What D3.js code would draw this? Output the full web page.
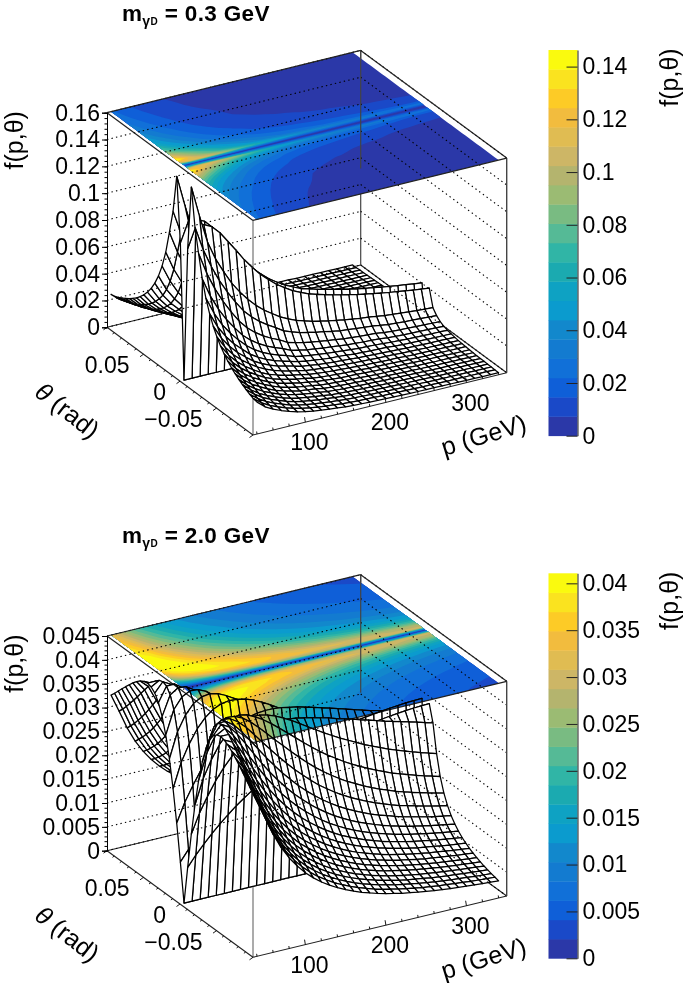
<!DOCTYPE html>
<html><head><meta charset="utf-8">
<script src="https://cdnjs.cloudflare.com/ajax/libs/d3/7.8.5/d3.min.js"></script>
<style>
html,body{margin:0;padding:0;background:#fff}
svg{display:block}
text{font-family:"Liberation Sans",Arial,sans-serif;fill:#000}
.mesh{mix-blend-mode:multiply}
</style></head><body>
<svg id="c" width="685" height="983"></svg>
<script>
// |theta| of each mesh row (the surface reads as symmetric about theta = 0)
const thetaRows=[0,.005,.01,.015,.02,.025,.03,.035,.04,.045,.05,.055,.06,.065,.07,.075,.08,.085,.09,.095,.1];
const pColumns=[40,50,60,70,80,90,100,110,120,130,140,150,160,170,180,190,200,210,220,230,240,250,260,270,280,290,300,310,320,330,340];
const paletteBands=["#2B38A8","#1A49C8","#0F5FD8","#1170D8","#137BD0","#1288CC","#0B9BCE","#0EA2C3","#1BAAB0","#30B5A6","#55BA96","#79BB82","#9BBB73","#B4B46E","#CDB666","#E0BC52","#F2BC3E","#FDCB26","#FAE31F","#FAFA0E"];
const ticksZA=[0,.02,.04,.06,.08,.1,.12,.14,.16];
const ticksZB=[0,.005,.01,.015,.02,.025,.03,.035,.04,.045];
const ticksBarA=[0,.02,.04,.06,.08,.1,.12,.14];
const ticksBarB=[0,.005,.01,.015,.02,.025,.03,.035,.04];
const ticksTheta=[.05,0,-.05];
const ticksP=[100,200,300];
// f(p,theta) x 1e4, mass 0.3 GeV
const surfaceA=[
[0,0,0,0,0,0,0,0,0,0,0,0,0,0,0,0,0,0,0,0,0,0,0,0,0,0,0,0,0,0,0],
[1000,1150,1150,1120,1060,980,900,816,744,677,623,573,533,496,468,442,424,407,391,376,362,349,337,326,316,305,296,287,279,271,263],
[1480,1250,1040,900,790,690,610,540,480,430,390,350,320,295,275,258,245,232,220,210,200,192,185,176,168,162,156,151,146,142,138],
[1200,1020,880,760,660,570,490,430,380,340,305,265,243,223,210,195,187,174,163,156,150,144,138,129,121,117,112,109,106,102,99],
[1023,862,733,625,532,448,383,333,293,260,234,200,183,168,157,148,140,131,122,117,112,108,104,96,90,87,85,81,79,77,75],
[855,712,600,508,431,362,310,269,236,210,188,161,148,135,127,118,112,106,98,94,90,87,83,77,73,70,68,66,64,62,59],
[731,604,505,428,362,305,259,224,197,174,156,134,123,113,106,99,94,88,82,78,75,73,69,64,61,58,56,55,53,52,50],
[637,522,437,368,314,261,223,193,169,150,134,116,106,98,90,84,81,76,70,67,64,62,60,55,52,50,48,47,45,44,43],
[563,459,384,323,274,229,195,169,148,132,118,101,93,85,79,74,71,66,61,59,56,54,51,49,45,44,42,41,40,39,37],
[504,412,343,289,244,205,174,150,132,116,105,90,82,76,71,66,62,59,55,53,50,48,47,43,41,39,37,36,35,34,33],
[456,372,310,260,220,184,156,136,119,105,95,81,74,68,63,60,56,53,49,47,44,43,42,38,36,35,34,33,32,31,30],
[416,339,283,238,201,168,142,123,109,96,86,73,67,62,57,54,51,48,44,43,41,40,37,35,33,32,31,30,29,28,28],
[382,312,259,218,184,154,131,113,100,88,79,67,62,57,52,50,48,44,41,40,37,36,35,33,31,30,29,28,26,25,25],
[353,289,240,201,170,142,120,104,92,81,73,62,57,52,49,45,44,41,37,36,35,33,32,29,28,26,26,25,24,24,23],
[329,269,223,188,157,132,113,97,84,76,68,57,52,49,45,43,40,37,35,34,33,30,29,27,26,25,24,23,23,22,21],
[307,251,208,174,147,123,104,90,79,70,63,54,49,45,43,39,38,35,33,32,30,29,28,26,24,23,22,22,21,21,20],
[288,235,194,164,138,115,97,84,74,65,59,50,46,43,39,37,35,32,30,29,28,27,26,24,23,22,21,21,20,19,19],
[271,222,184,154,131,109,92,79,70,61,56,48,44,40,38,35,33,31,29,28,27,26,25,23,21,21,20,20,19,19,18],
[256,209,173,145,123,102,87,76,67,59,52,47,41,38,35,33,32,29,27,26,25,25,23,21,20,20,19,19,18,18,17],
[244,198,164,138,116,97,82,72,63,55,50,43,39,35,33,32,29,28,26,25,23,22,22,20,19,19,18,18,17,17,15],
[238,188,156,131,110,92,78,68,60,52,47,40,37,34,32,29,28,26,25,23,22,22,21,19,19,18,17,17,15,15,15]];
// f(p,theta) x 1e5, mass 2.0 GeV
const surfaceB=[
[0,0,0,0,0,0,0,0,0,0,0,0,0,0,0,0,0,0,0,0,0,0,0,0,0,0,0,0,0,0,0],
[802,1021,1207,1387,1552,1703,1846,1972,2090,2199,2296,2382,2456,2520,2573,2627,2672,2716,2751,2791,2822,2850,2879,2902,2923,2945,2966,2981,2996,3005,3010],
[1559,1955,2266,2546,2781,2977,3136,3258,3352,3418,3459,3475,3475,3455,3419,3387,3340,3297,3244,3198,3149,3094,3046,2995,2942,2899,2852,2806,2760,2711,2666],
[2228,2731,3082,3358,3554,3689,3763,3791,3777,3740,3676,3595,3503,3399,3292,3187,3083,2986,2888,2804,2717,2631,2558,2485,2416,2353,2293,2236,2180,2127,2074],
[2795,3320,3634,3835,3933,3956,3920,3841,3739,3617,3481,3341,3200,3059,2921,2793,2672,2564,2455,2361,2272,2187,2111,2038,1969,1910,1854,1799,1747,1698,1650],
[3240,3731,3955,4043,4030,3952,3826,3671,3507,3336,3172,3005,2848,2695,2552,2424,2305,2195,2093,2006,1920,1842,1770,1706,1642,1590,1539,1491,1446,1401,1360],
[3572,3984,4095,4076,3966,3809,3618,3420,3226,3037,2859,2686,2528,2380,2239,2119,2004,1904,1809,1728,1651,1579,1515,1455,1400,1355,1310,1266,1225,1187,1153],
[3807,4113,4116,3998,3812,3602,3379,3157,2953,2756,2576,2407,2253,2114,1985,1871,1764,1673,1588,1512,1440,1376,1323,1268,1219,1178,1137,1096,1062,1028,997],
[3953,4150,4054,3860,3623,3379,3136,2907,2698,2506,2329,2172,2026,1894,1775,1668,1573,1485,1408,1340,1277,1220,1169,1121,1076,1039,1001,967,936,906,878],
[4026,4121,3943,3692,3421,3160,2909,2683,2474,2289,2123,1973,1837,1712,1600,1505,1416,1337,1265,1205,1146,1094,1046,1002,964,930,896,865,835,811,784],
[4050,4050,3803,3517,3224,2953,2705,2478,2280,2102,1943,1803,1677,1561,1459,1366,1286,1214,1148,1092,1037,989,948,908,871,840,810,782,755,731,708],
[4030,3947,3650,3337,3035,2766,2517,2301,2109,1941,1792,1658,1538,1432,1335,1251,1176,1109,1050,995,947,903,863,829,793,766,739,711,688,667,644],
[3985,3830,3498,3170,2861,2591,2352,2142,1961,1799,1656,1535,1420,1323,1232,1153,1082,1023,965,917,870,831,794,761,731,704,680,656,632,612,592],
[3916,3702,3345,3007,2700,2436,2203,2003,1828,1676,1546,1426,1321,1225,1142,1071,1005,947,893,849,806,770,737,704,675,651,627,607,583,566,549],
[3831,3577,3201,2856,2551,2296,2070,1880,1710,1571,1443,1332,1232,1145,1066,997,935,881,831,791,752,716,684,654,628,605,584,564,543,526,509],
[3738,3445,3057,2713,2418,2169,1952,1768,1611,1474,1354,1249,1153,1071,998,932,875,825,779,740,704,669,639,613,588,567,547,527,510,493,476],
[3641,3320,2925,2583,2293,2054,1846,1668,1516,1388,1273,1173,1086,1008,936,878,822,776,730,694,659,628,599,576,550,530,513,493,476,462,445],
[3540,3196,2802,2464,2180,1946,1748,1579,1436,1309,1203,1108,1025,949,884,827,775,729,688,652,621,593,567,541,519,499,482,465,448,435,421],
[3438,3079,2682,2354,2079,1851,1662,1498,1360,1242,1141,1050,968,900,836,783,735,690,652,620,589,561,536,513,491,471,454,440,424,410,397],
[3337,2967,2575,2252,1983,1767,1580,1424,1292,1182,1082,996,922,854,795,742,695,657,619,588,557,529,507,485,467,450,433,416,402,389,378],
[3240,2864,2472,2154,1898,1688,1509,1359,1231,1126,1030,948,876,812,757,705,661,624,587,559,531,504,482,460,442,425,411,394,384,370,357]];

const svg=d3.select("#c");
const fmt=d3.format("~g");
const thetaScale=d3.scaleLinear([.1,-.1],[0,1]);
const pScale=d3.scaleLinear([35,350],[0,1]);

function panel(o){
  const g=svg.append("g");
  const zY=d3.scaleLinear([0,o.zMax],[o.y0,o.y0-o.h]);
  const rows=[...o.surface.slice(1).reverse().map((r,i)=>({t:thetaRows[thetaRows.length-1-i],r})),
              {t:0,r:o.surface[0]},
              ...o.surface.slice(1).map((r,i)=>({t:-thetaRows[i+1],r}))];
  const proj=(t,p,z)=>{const a=thetaScale(t),b=pScale(p);
    return [107+a*146+b*253.7,(zY(z))+a*o.ay+b*o.by];};
  const ln=d3.line();
  const seg=(a,b,col,w,dash)=>{const s=g.append("path").attr("d",ln([a,b])).attr("fill","none").attr("stroke",col).attr("stroke-width",w);if(dash)s.attr("stroke-dasharray",dash);};
  const T=.1,P0=35,P1=350,Z=o.zMax;
  // edges the surface hides: front vertical and the two back floor edges
  seg(proj(-T,P0,0),proj(-T,P0,Z),"#666",1.1);
  seg(proj(T,P0,0),proj(T,P1,0),"#222",1.1);
  seg(proj(T,P1,0),proj(-T,P1,0),"#222",1.1);
  seg(proj(T,P1,0),proj(T,P1,Z),"#444",1.2);
  const cells=[];
  for(let i=0;i<rows.length-1;i++)for(let j=pColumns.length-1;j>0;j--){
    const c=[[i,j],[i,j-1],[i+1,j-1],[i+1,j]].map(([a,b])=>proj(rows[a].t,pColumns[b],rows[a].r[b]*o.unit));
    cells.push(ln(c)+"Z");
  }
  g.append("g").selectAll("path").data(cells).join("path").attr("d",d=>d).attr("fill","#fff").attr("stroke","#fff").attr("stroke-width",.6);
  // coloured contour plane on the ceiling of the box
  const values=rows.flatMap(d=>d.r.map(v=>v*o.unit));
  const nx=pColumns.length,ny=rows.length;
  const step=o.barMax/paletteBands.length;
  const thresholds=paletteBands.map((_,i)=>i*step);
  const clamp=(v,n)=>Math.max(.5,Math.min(n-.5,v));
  const xToP=d3.scaleLinear([.5,nx-.5],[pColumns[0],pColumns[nx-1]]);
  const yToT=d3.scaleLinear([.5,ny-.5],[T,-T]);
  const tr=d3.geoTransform({point(x,y){const q=proj(yToT(clamp(y,ny)),xToP(clamp(x,nx)),Z);this.stream.point(q[0],q[1]);}});
  const path=d3.geoPath(tr);
  g.append("g").selectAll("path").data(d3.contours().size([nx,ny]).thresholds(thresholds)(values))
    .join("path").attr("d",path).attr("fill",(d,i)=>paletteBands[i]);
  // dotted wall grid, drawn over the plane
  o.zTicks.forEach(z=>{
    const a=proj(T,P0,z),b=proj(T,P1,z),c=proj(-T,P1,z);
    seg(a,b,"#000",1.1,"1.4 3.2");seg(b,c,"#000",1.1,"1.4 3.2");
  });
  seg(proj(T,P1,Z),proj(T,P1,Z*.45),"#444",1.2);
  seg(proj(-T,P1,0),proj(-T,P1,Z),"#444",1.4);
  [[[T,P0],[-T,P0]],[[-T,P0],[-T,P1]],[[T,P0],[T,P1]],[[T,P1],[-T,P1]]].forEach(([u,v])=>{
    seg(proj(u[0],u[1],Z),proj(v[0],v[1],Z),"#222",1.2);
  });
  seg(proj(T,P0,0),proj(-T,P0,0),"#222",1.1);
  seg(proj(-T,P0,0),proj(-T,P1,0),"#222",1.1);
  // wire mesh: white cells multiply through to whatever lies behind
  g.append("g").attr("class","mesh").selectAll("path").data(cells).join("path").attr("d",d=>d)
    .attr("fill","#fff").attr("stroke","#000").attr("stroke-width",1.25).attr("stroke-linejoin","round");
  // z axis
  const ax=d3.axisLeft(zY).tickValues(o.zTicks).tickSize(5).tickPadding(2).tickFormat(fmt);
  const ag=g.append("g").attr("transform","translate(107,0)").call(ax);
  ag.selectAll("text").attr("font-size",23).style("font-family",'"Liberation Sans"');
  ag.selectAll("path,line").attr("stroke","#000").attr("stroke-width",1);
  const minor=d3.range(0,o.zMax+1e-9,o.zMinor);
  g.append("g").attr("transform","translate(107,0)").call(d3.axisLeft(zY).tickValues(minor).tickSize(2.5).tickFormat("")).selectAll("path,line").attr("stroke","#000").attr("stroke-width",1);
  // theta axis
  d3.range(-.1,.1001,.01).forEach(t=>{const q=proj(t,P0,0),M=Math.abs(Math.round(t*100))%5===0;
    seg(q,[q[0]-(M?3.5:1.8),q[1]+(M?2.5:1.3)],"#000",.9);});
  ticksTheta.forEach(t=>{const q=proj(t,P0,0);
    g.append("text").attr("x",q[0]-14).attr("y",q[1]+19).attr("text-anchor","end").attr("font-size",23).text(t<0?"\u2212"+fmt(-t):fmt(t));});
  // p axis
  d3.range(40,350,20).forEach(p=>{const q=proj(-T,p,0),M=p%100===0;
    seg(q,[q[0]+(M?-.8:-.4),q[1]-(M?5:2.5)],"#000",.9);});
  ticksP.forEach(p=>{const q=proj(-T,p,0);
    g.append("text").attr("x",q[0]+4).attr("y",q[1]+28).attr("text-anchor","middle").attr("font-size",23).text(p);});
  // titles
  g.append("text").attr("transform",`translate(23,${o.y0-187}) rotate(-90)`).attr("text-anchor","middle").attr("font-size",25).text("f(p,\u03b8)");
  const tt=g.append("text").attr("transform",`translate(62,${o.y0+90}) rotate(38)`).attr("text-anchor","middle").attr("font-size",25);
  tt.append("tspan").attr("font-style","italic").text("\u03b8");tt.append("tspan").text(" (rad)");
  g.append("text").attr("transform",`translate(486,${o.y0+116}) rotate(-17)`).attr("text-anchor","middle").attr("font-size",25).text("p (GeV)");
  const head=g.append("text").attr("x",122).attr("y",o.titleY).attr("font-size",22.5).attr("font-weight","bold").attr("letter-spacing",.35);
  head.append("tspan").text("m");
  head.append("tspan").attr("font-size",14).attr("dy",5).text("\u03b3");
  head.append("tspan").attr("font-size",10).attr("dy",-1).text("D");
  head.append("tspan").attr("dy",-4).text(" = "+o.mass+" GeV");
  // colour bar
  const barY=d3.scaleLinear([0,o.barMax],[o.barBottom,o.barTop]);
  g.append("g").selectAll("rect").data(paletteBands).join("rect")
    .attr("x",548.5).attr("width",29).attr("y",(d,i)=>barY((i+1)*step)).attr("height",(d,i)=>barY(i*step)-barY((i+1)*step)+.4).attr("fill",d=>d);
  const bar=g.append("g").attr("transform","translate(577.5,0)").call(d3.axisRight(barY).tickValues(o.barTicks).tickSizeInner(-11).tickSizeOuter(0).tickPadding(5).tickFormat(fmt));
  bar.selectAll("text").attr("font-size",23).style("font-family",'"Liberation Sans"').attr("x",5);
  bar.selectAll("path,line").attr("stroke","#222").attr("stroke-width",1);
  g.append("text").attr("transform",`translate(678,${o.barTop+27.5}) rotate(-90)`).attr("text-anchor","middle").attr("font-size",25).text("f(p,\u03b8)");
}
panel({surface:surfaceA,unit:1e-4,zMax:.16,zTicks:ticksZA,zMinor:.004,y0:327.3,h:214.6,ay:107.7,by:-62.3,titleY:20.5,mass:"0.3",
  barMax:.1463,barTop:50,barBottom:435.7,barTicks:ticksBarA});
panel({surface:surfaceB,unit:1e-5,zMax:.045,zTicks:ticksZB,zMinor:.001,y0:850.7,h:214.7,ay:106.6,by:-61.3,titleY:542.7,mass:"2.0",
  barMax:.04107,barTop:573.3,barBottom:958.3,barTicks:ticksBarB});
</script></body></html>
